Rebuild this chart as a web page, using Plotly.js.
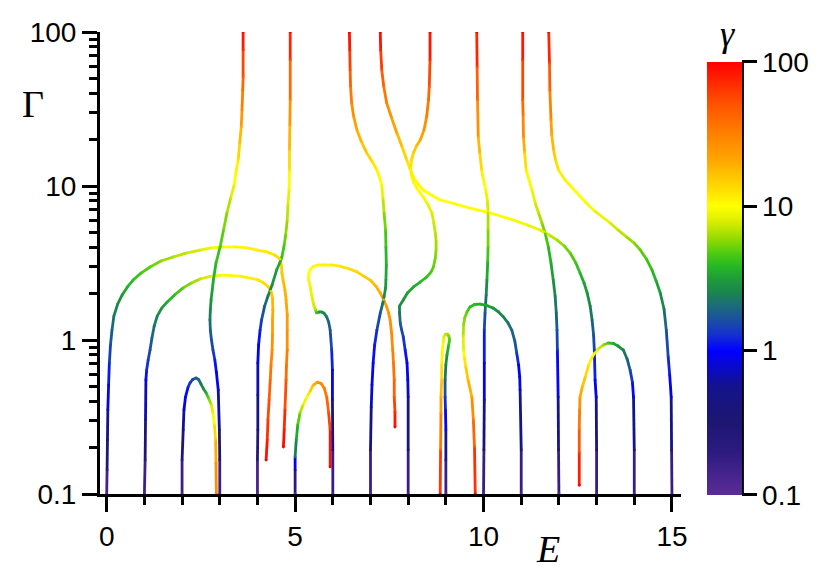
<!DOCTYPE html>
<html>
<head>
<meta charset="utf-8">
<script src="https://cdn.plot.ly/plotly-3.0.1.min.js"></script>
<style>
  body { margin: 0; background: #fff; }
  #plot { width: 830px; height: 582px; }
</style>
</head>
<body>
<div id="plot"></div>
<script>
// Trayectorias: energía E, ancho Γ y parámetro γ (color)
const c0E = [0, 0.01, 0.02, 0.03, 0.05, 0.07, 0.10, 0.14, 0.19, 0.29, 0.41, 0.55, 0.70, 0.91, 1.15, 1.44, 1.76, 2.11, 2.48, 2.77, 3.09, 3.41, 3.72, 3.99, 4.26, 4.46, 4.60, 4.64, 4.65, 4.68, 4.73, 4.76, 4.79, 4.79, 4.79, 4.77, 4.76, 4.73, 4.71, 4.69];
const c0G = [0.1, 0.143, 0.224, 0.351, 0.51, 0.709, 0.928, 1.16, 1.43, 1.71, 1.96, 2.21, 2.45, 2.72, 2.98, 3.26, 3.46, 3.67, 3.84, 3.96, 4.02, 4.02, 3.96, 3.84, 3.73, 3.56, 3.36, 3.02, 2.72, 2.45, 2.11, 1.82, 1.45, 1.16, 0.861, 0.689, 0.55, 0.351, 0.261, 0.202];
const c0g = [0.1, 0.2, 0.4, 0.7, 1.0, 1.3, 1.6, 1.9, 2.3, 2.7, 3.1, 3.6, 4, 4.5, 5, 5.8, 6.5, 7.2, 8, 9, 10, 10.5, 11, 11.5, 12, 13, 14, 15, 16, 17, 19, 20, 23, 25, 30, 35, 45, 65, 80, 100];

const c1E = [1.0, 1.02, 1.03, 1.04, 1.06, 1.10, 1.15, 1.20, 1.26, 1.34, 1.46, 1.60, 1.81, 2.03, 2.24, 2.48, 2.77, 3.09, 3.54, 3.99, 4.15, 4.28, 4.36, 4.40, 4.41, 4.40, 4.40, 4.39, 4.36, 4.34, 4.31, 4.28, 4.26, 4.23];
const c1G = [0.1, 0.166, 0.303, 0.55, 0.638, 0.741, 0.861, 1.03, 1.23, 1.43, 1.61, 1.76, 1.97, 2.18, 2.34, 2.49, 2.60, 2.64, 2.60, 2.47, 2.36, 2.23, 2.07, 1.87, 1.57, 1.35, 1.08, 0.861, 0.689, 0.55, 0.408, 0.303, 0.224, 0.166];
const c1g = [0.1, 0.25, 0.5, 1.0, 1.2, 1.4, 1.6, 1.9, 2.2, 2.6, 3, 3.5, 4.2, 5, 6, 7, 8.5, 10, 11, 12, 13, 14, 15.5, 17, 20, 22, 25, 28, 33, 40, 50, 60, 75, 100];

const c2E = [2.0, 2.0, 2.03, 2.05, 2.09, 2.16, 2.21, 2.28, 2.37, 2.44, 2.50, 2.57, 2.64, 2.70, 2.77, 2.82, 2.86, 2.89, 2.90, 2.91];
const c2G = [0.1, 0.166, 0.261, 0.351, 0.426, 0.495, 0.526, 0.554, 0.567, 0.554, 0.518, 0.481, 0.453, 0.420, 0.384, 0.336, 0.281, 0.224, 0.159, 0.1];
const c2g = [0.1, 0.25, 0.5, 0.75, 0.95, 1.2, 1.35, 1.5, 1.8, 2, 2.3, 2.8, 3.5, 5, 7, 9, 12, 16, 25, 30];

const c3E = [3.0, 3.0, 2.99, 2.96, 2.91, 2.87, 2.82, 2.78, 2.75, 2.74, 2.75, 2.77, 2.80, 2.83, 2.90, 3.01, 3.10, 3.19, 3.29, 3.38, 3.43, 3.49, 3.53, 3.57, 3.59, 3.61, 3.62, 3.62, 3.62];
const c3G = [0.1, 0.166, 0.261, 0.473, 0.62, 0.741, 0.861, 1.0, 1.16, 1.35, 1.57, 1.82, 2.11, 2.45, 3.16, 4.02, 5.18, 6.68, 8.36, 10.1, 12.3, 14.8, 19.0, 24.2, 31.2, 42.0, 51.0, 76.4, 100];
const c3g = [0.1, 0.25, 0.45, 0.8, 1.0, 1.2, 1.45, 1.65, 1.9, 2.3, 2.6, 3, 3.3, 3.5, 4, 4.5, 5.2, 6, 7.5, 9, 10.5, 12, 16, 20, 28, 38, 45, 70, 100];

const c4E = [4.0, 4.0, 4.01, 4.01, 4.01, 4.03, 4.07, 4.11, 4.19, 4.28, 4.39, 4.51, 4.59, 4.65, 4.71, 4.75, 4.79, 4.81, 4.84, 4.85, 4.85, 4.86, 4.87, 4.87, 4.87];
const c4G = [0.1, 0.166, 0.261, 0.439, 0.709, 0.928, 1.16, 1.35, 1.66, 1.93, 2.28, 2.85, 3.16, 3.46, 4.14, 4.81, 6.01, 7.53, 9.42, 12.7, 17.1, 24.9, 36.2, 65.8, 100];
const c4g = [0.1, 0.2, 0.35, 0.6, 0.8, 1.0, 1.2, 1.5, 1.9, 2.3, 2.8, 3.2, 3.6, 4, 4.8, 5.5, 6.5, 7.5, 9, 12, 15, 22, 30, 55, 100];

const c5E = [5.0, 5.0, 5.0, 5.03, 5.07, 5.13, 5.21, 5.31, 5.40, 5.48, 5.59, 5.69, 5.77, 5.84, 5.89, 5.93, 5.93];
const c5G = [0.1, 0.143, 0.174, 0.224, 0.281, 0.336, 0.378, 0.426, 0.466, 0.510, 0.533, 0.522, 0.488, 0.426, 0.336, 0.261, 0.150];
const c5g = [0.1, 0.4, 2, 3, 4, 6, 8, 10, 14, 18, 24, 28, 32, 38, 50, 70, 100];

const c6E = [6.0, 6.0, 5.99, 5.99, 5.97, 5.93, 5.89, 5.84, 5.77, 5.71, 5.64, 5.57, 5.53, 5.48, 5.44, 5.40, 5.36, 5.36, 5.40, 5.48, 5.61, 5.75, 5.95, 6.19, 6.41, 6.64, 6.82, 6.99, 7.14, 7.26, 7.35, 7.43, 7.48, 7.52, 7.56, 7.59, 7.61, 7.63, 7.63, 7.65, 7.65];
const c6G = [0.1, 0.193, 0.408, 0.638, 0.861, 1.16, 1.31, 1.41, 1.49, 1.52, 1.52, 1.50, 1.59, 1.74, 1.96, 2.21, 2.45, 2.68, 2.87, 3.0, 3.07, 3.07, 3.07, 3.02, 2.91, 2.77, 2.60, 2.45, 2.24, 2.02, 1.83, 1.64, 1.50, 1.35, 1.11, 0.861, 0.709, 0.55, 0.426, 0.341, 0.272];
const c6g = [0.1, 0.3, 0.7, 1.0, 1.4, 1.7, 2.0, 2.2, 2.5, 2.8, 3.1, 4, 7, 8, 8.5, 9, 9.5, 10, 10, 10.5, 10.7, 11, 11.5, 12, 13, 14, 15, 16, 18, 20, 21.5, 23, 24.5, 26, 28, 30, 35, 40, 50, 70, 100];

const c7E = [7.0, 7.0, 7.02, 7.04, 7.07, 7.11, 7.17, 7.26, 7.32, 7.36, 7.40, 7.41, 7.42, 7.41, 7.40, 7.36, 7.33, 7.30, 7.24, 7.17, 7.04, 6.90, 6.75, 6.64, 6.55, 6.50, 6.47, 6.46, 6.45, 6.44];
const c7G = [0.1, 0.193, 0.367, 0.51, 0.709, 0.928, 1.16, 1.50, 1.71, 1.90, 2.18, 2.45, 3.07, 4.02, 5.18, 6.68, 8.36, 10.1, 11.4, 12.7, 14.5, 16.4, 19.6, 23.1, 28.5, 34.6, 44.6, 56.6, 76.4, 100];
const c7g = [0.1, 0.3, 0.7, 0.85, 1.0, 1.15, 1.3, 1.8, 2.2, 2.6, 2.9, 3.2, 3.6, 4, 5, 6, 8, 9.5, 10.3, 11, 13, 15, 18, 20, 25, 30, 40, 50, 75, 100];

const c8E = [8.0, 8.0, 8.0, 7.99, 7.97, 7.92, 7.87, 7.82, 7.79, 7.77, 7.77, 7.87, 7.98, 8.14, 8.32, 8.49, 8.61, 8.67, 8.72, 8.74, 8.74, 8.72, 8.68, 8.63, 8.53, 8.40, 8.26, 8.14, 8.08, 8.07, 8.09, 8.14, 8.22, 8.32, 8.42, 8.49, 8.54, 8.56, 8.58, 8.58];
const c8G = [0.1, 0.193, 0.426, 0.55, 0.709, 0.861, 1.05, 1.18, 1.29, 1.50, 1.66, 1.82, 2.02, 2.21, 2.38, 2.56, 2.77, 2.98, 3.41, 3.84, 4.40, 4.95, 5.75, 6.68, 7.53, 8.49, 9.42, 10.6, 11.8, 13.1, 14.8, 16.4, 18.2, 19.9, 23.1, 28.1, 36.2, 44.0, 65.8, 100];
const c8g = [0.1, 0.3, 0.7, 0.85, 1.0, 1.2, 1.4, 1.65, 1.9, 2.3, 2.6, 3, 3.2, 3.5, 3.8, 4.2, 4.6, 5, 5.5, 6, 6.5, 7, 7.5, 8, 8.7, 9.5, 10, 10.5, 11.2, 12, 13.5, 15, 17, 20, 25, 30, 38, 45, 70, 100];

const c9E = [9.0, 9.0, 9.0, 8.99, 8.98, 8.98, 9.0, 9.03, 9.07, 9.10, 9.08, 9.04, 8.99, 8.95, 8.93, 8.91, 8.89, 8.89, 8.87, 8.87, 8.86, 8.85];
const c9G = [0.1, 0.166, 0.261, 0.351, 0.426, 0.55, 0.689, 0.80, 0.914, 1.0, 1.06, 1.09, 1.09, 1.05, 0.97, 0.861, 0.689, 0.55, 0.426, 0.336, 0.193, 0.1];
const c9g = [0.1, 0.3, 0.8, 1.1, 1.4, 2, 2.6, 3.2, 4, 4.8, 5.5, 6, 7, 8, 9, 10, 12, 15, 20, 25, 45, 90];

const c10E = [10.0, 10.01, 10.02, 10.02, 10.02, 10.04, 10.07, 10.09, 10.11, 10.12, 10.12, 10.12, 10.10, 10.06, 10.0, 9.95, 9.90, 9.86, 9.84, 9.83, 9.82];
const c10G = [0.1, 0.193, 0.408, 0.709, 1.16, 1.50, 1.96, 2.45, 3.21, 4.02, 5.18, 6.68, 8.11, 9.42, 10.9, 12.7, 16.4, 20.8, 36.2, 59.3, 100];
const c10g = [0.1, 0.3, 0.7, 1.0, 1.3, 1.8, 2.4, 3, 4, 5, 6, 7, 8.5, 9.5, 10.5, 12, 16, 20, 35, 55, 100];

const c11E = [11.0, 11.0, 10.97, 10.96, 10.93, 10.88, 10.83, 10.75, 10.65, 10.53, 10.40, 10.26, 10.10, 9.91, 9.76, 9.64, 9.56, 9.50, 9.47, 9.46, 9.47, 9.49, 9.53, 9.59, 9.69, 9.73, 9.76, 9.78];
const c11G = [0.1, 0.193, 0.473, 0.575, 0.689, 0.824, 0.985, 1.16, 1.29, 1.41, 1.52, 1.61, 1.67, 1.71, 1.70, 1.64, 1.52, 1.39, 1.25, 1.06, 0.861, 0.776, 0.668, 0.55, 0.426, 0.303, 0.202, 0.1];
const c11g = [0.1, 0.3, 0.8, 0.9, 1.0, 1.5, 1.8, 2, 2.2, 2.5, 2.7, 3, 3.3, 3.5, 3.8, 4, 5, 5.5, 6, 7.5, 9, 11, 14, 17, 22, 35, 50, 90];

const c12E = [12.0, 11.99, 11.98, 11.96, 11.95, 11.93, 11.90, 11.85, 11.79, 11.72, 11.64, 11.55, 11.46, 11.37, 11.29, 11.21, 11.13, 11.09, 11.06, 11.05, 11.04, 11.04, 11.04];
const c12G = [0.1, 0.193, 0.426, 0.861, 1.16, 1.50, 1.93, 2.45, 3.16, 4.02, 4.88, 5.75, 6.68, 7.76, 9.28, 10.9, 12.7, 16.6, 20.8, 29.0, 36.2, 65.8, 100];
const c12g = [0.1, 0.3, 0.8, 1.3, 1.7, 2, 2.5, 3, 3.5, 4, 5, 6, 7, 8, 9, 10, 11, 16, 25, 35, 45, 70, 100];

const c13E = [13.0, 13.0, 12.99, 12.96, 12.94, 12.92, 12.88, 12.83, 12.75, 12.67, 12.56, 12.45, 12.30, 12.14, 11.95, 11.74, 11.50, 11.16, 10.79, 10.18, 9.64, 9.25, 8.85, 8.61, 8.40, 8.26, 8.14, 8.04, 7.96, 7.83, 7.70, 7.55, 7.43, 7.35, 7.30, 7.27, 7.26];
const c13G = [0.1, 0.193, 0.426, 0.55, 0.861, 1.08, 1.35, 1.66, 2.02, 2.34, 2.72, 3.16, 3.67, 4.08, 4.46, 4.81, 5.18, 5.58, 6.01, 6.68, 7.19, 7.64, 8.11, 8.74, 9.42, 10.3, 11.4, 13.1, 14.8, 18.2, 22.1, 28.1, 34.6, 44.6, 56.6, 76.4, 100];
const c13g = [0.1, 0.3, 0.8, 1.0, 1.4, 1.7, 2, 2.5, 3, 3.4, 3.8, 4.4, 5, 5.7, 6.5, 7.5, 8.5, 9, 9.5, 10, 10, 10, 10, 10, 10, 10.5, 11, 12, 13, 16, 20, 25, 30, 40, 50, 75, 100];

const c14E = [14.0, 14.0, 13.98, 13.95, 13.89, 13.81, 13.71, 13.57, 13.45, 13.31, 13.18, 13.04, 12.91, 12.79, 12.70, 12.62, 12.56, 12.55, 12.54, 12.54, 12.54];
const c14G = [0.1, 0.193, 0.426, 0.533, 0.638, 0.753, 0.861, 0.914, 0.949, 0.956, 0.928, 0.874, 0.799, 0.689, 0.575, 0.495, 0.426, 0.351, 0.261, 0.185, 0.114];
const c14g = [0.1, 0.3, 0.9, 1.2, 1.6, 2, 2.5, 3, 3.5, 4.5, 6, 8, 10, 12, 15, 18, 22, 30, 40, 60, 100];

const c15E = [15.0, 14.99, 14.98, 14.94, 14.90, 14.85, 14.79, 14.69, 14.58, 14.47, 14.32, 14.16, 14.00, 13.80, 13.57, 13.36, 12.92, 12.70, 12.48, 12.31, 12.17, 11.99, 11.91, 11.86, 11.81, 11.79, 11.76, 11.75, 11.73];
const c15G = [0.1, 0.193, 0.426, 0.593, 0.776, 1.16, 1.59, 2.02, 2.42, 2.85, 3.36, 3.84, 4.26, 4.66, 5.18, 5.75, 6.98, 7.87, 9.01, 10.0, 10.9, 12.7, 14.8, 17.1, 21.4, 26.8, 42.0, 62.9, 100];
const c15g = [0.1, 0.3, 0.8, 1.1, 1.3, 1.8, 2.3, 3, 3.5, 4, 4.5, 5, 5.7, 6.5, 7.3, 8, 9.5, 9.8, 10, 10.5, 11, 12, 14, 16, 20, 25, 40, 55, 100];

// Ticks
const ticksE = [0, 5, 10, 15];
const ticksEmenores = [1, 2, 3, 4, 6, 7, 8, 9, 11, 12, 13, 14];
const ticksGamma = [0.1, 1, 10, 100];
const etiquetasGamma = ['0.1', '1', '10', '100'];
const ticksGammaMenores = [0.2, 0.3, 0.4, 0.5, 0.6, 0.7, 0.8, 0.9, 2, 3, 4, 5, 6, 7, 8, 9, 20, 30, 40, 50, 60, 70, 80, 90];

// Escala de colores (log10 γ de -1 a 2)
const escalaColor = [
  [0, '#5c2c98'], [0.1, '#2c1a80'], [0.17, '#1d1672'], [0.25, '#14138c'],
  [0.333, '#0000ff'], [0.37, '#1530d0'], [0.405, '#1a50a0'], [0.436, '#1b6a7a'],
  [0.466, '#1a8450'], [0.497, '#1e9a3a'], [0.528, '#25b825'], [0.559, '#50cc10'],
  [0.598, '#a0dd00'], [0.636, '#e0f000'], [0.667, '#ffff00'], [0.713, '#ffd800'],
  [0.775, '#ffa500'], [0.844, '#ff7a00'], [0.906, '#ff5000'], [1, '#ff0000']
];

const hexARgb = h => [1, 3, 5].map(i => parseInt(h.slice(i, i + 2), 16));

function colorEn(t) {
  t = Math.max(0, Math.min(1, t));
  for (let i = 0; i < escalaColor.length - 1; i++) {
    const [t0, h0] = escalaColor[i];
    const [t1, h1] = escalaColor[i + 1];
    if (t <= t1) {
      const f = (t - t0) / (t1 - t0);
      const a = hexARgb(h0), b = hexARgb(h1);
      const c = a.map((v, k) => Math.round(v + f * (b[k] - v)));
      return `rgb(${c[0]},${c[1]},${c[2]})`;
    }
  }
  return escalaColor[escalaColor.length - 1][1];
}

const curvas = [
  [c0E, c0G, c0g], [c1E, c1G, c1g], [c2E, c2G, c2g], [c3E, c3G, c3g],
  [c4E, c4G, c4g], [c5E, c5G, c5g], [c6E, c6G, c6g], [c7E, c7G, c7g],
  [c8E, c8G, c8g], [c9E, c9G, c9g], [c10E, c10G, c10g], [c11E, c11G, c11g],
  [c12E, c12G, c12g], [c13E, c13G, c13g], [c14E, c14G, c14g], [c15E, c15G, c15g]
];

const anchoLinea = 2.8;
const data = [];

// Cada tramo con su color
curvas.forEach(([E, G, g]) => {
  for (let i = 0; i < E.length - 1; i++) {
    const t = ((Math.log10(g[i]) + Math.log10(g[i + 1])) / 2 + 1) / 3;
    data.push({
      x: [E[i], E[i + 1]],
      y: [G[i], G[i + 1]],
      type: 'scatter',
      mode: 'lines',
      line: { color: colorEn(t), width: anchoLinea },
      hoverinfo: 'skip',
      showlegend: false
    });
  }
});

// Puntos (redondean las uniones) y barra de color
data.push({
  x: curvas.flatMap(c => c[0]),
  y: curvas.flatMap(c => c[1]),
  type: 'scatter',
  mode: 'markers',
  marker: {
    size: anchoLinea,
    color: curvas.flatMap(c => c[2].map(v => Math.log10(v))),
    colorscale: escalaColor,
    cmin: -1,
    cmax: 2,
    showscale: true,
    colorbar: {
      x: 1.0455, xanchor: 'left', xpad: 0,
      thickness: 35, thicknessmode: 'pixels',
      len: 433, lenmode: 'pixels',
      y: -0.002, yanchor: 'bottom', ypad: 0,
      outlinewidth: 0,
      tickmode: 'array',
      tickvals: [-1, 0, 1, 2],
      ticktext: etiquetasGamma,
      ticks: 'outside', ticklen: 15, tickwidth: 3, tickcolor: 'black',
      tickfont: { size: 28, color: 'black' }
    }
  },
  hoverinfo: 'skip',
  showlegend: false
});

const ejeComun = {
  showline: true, linewidth: 3, linecolor: 'black',
  ticks: 'outside', ticklen: 15, tickwidth: 3, tickcolor: 'black',
  showgrid: false, zeroline: false,
  tickfont: { size: 28, color: 'black' }
};

const layout = {
  width: 830,
  height: 582,
  margin: { l: 100, r: 149, t: 32, b: 88 },
  paper_bgcolor: 'white',
  plot_bgcolor: 'white',
  font: { family: 'Liberation Sans, Arial, sans-serif', size: 28, color: 'black' },
  showlegend: false,
  xaxis: Object.assign({}, ejeComun, {
    range: [-0.178, 15.24],
    tickmode: 'array',
    tickvals: ticksE,
    minor: { tickvals: ticksEmenores, ticks: 'outside', ticklen: 8, tickwidth: 3, tickcolor: 'black' }
  }),
  yaxis: Object.assign({}, ejeComun, {
    type: 'log',
    range: [-1, 2],
    tickmode: 'array',
    tickvals: ticksGamma,
    ticktext: etiquetasGamma,
    minor: { tickvals: ticksGammaMenores, ticks: 'outside', ticklen: 8, tickwidth: 3, tickcolor: 'black' }
  }),
  shapes: [{
    type: 'line', xref: 'paper', yref: 'paper',
    x0: 1.1057, x1: 1.1057, y0: -0.002, y1: 0.935,
    line: { color: 'black', width: 3 }
  }],
  annotations: [
    { text: 'Γ', xref: 'paper', yref: 'paper', x: -0.1154, y: 0.845, xanchor: 'center', yanchor: 'middle',
      showarrow: false, font: { family: 'Liberation Serif, serif', size: 38, color: 'black' } },
    { text: '<i>E</i>', xref: 'paper', yref: 'paper', x: 0.7716, y: -0.118, xanchor: 'center', yanchor: 'middle',
      showarrow: false, font: { family: 'Liberation Serif, serif', size: 38, color: 'black' } },
    { text: '<i>γ</i>', xref: 'paper', yref: 'paper', x: 1.08, y: 0.995, xanchor: 'center', yanchor: 'middle',
      showarrow: false, font: { family: 'Liberation Serif, serif', size: 36, color: 'black' } }
  ]
};

Plotly.newPlot('plot', data, layout, { displayModeBar: false, staticPlot: true });
</script>
</body>
</html>
